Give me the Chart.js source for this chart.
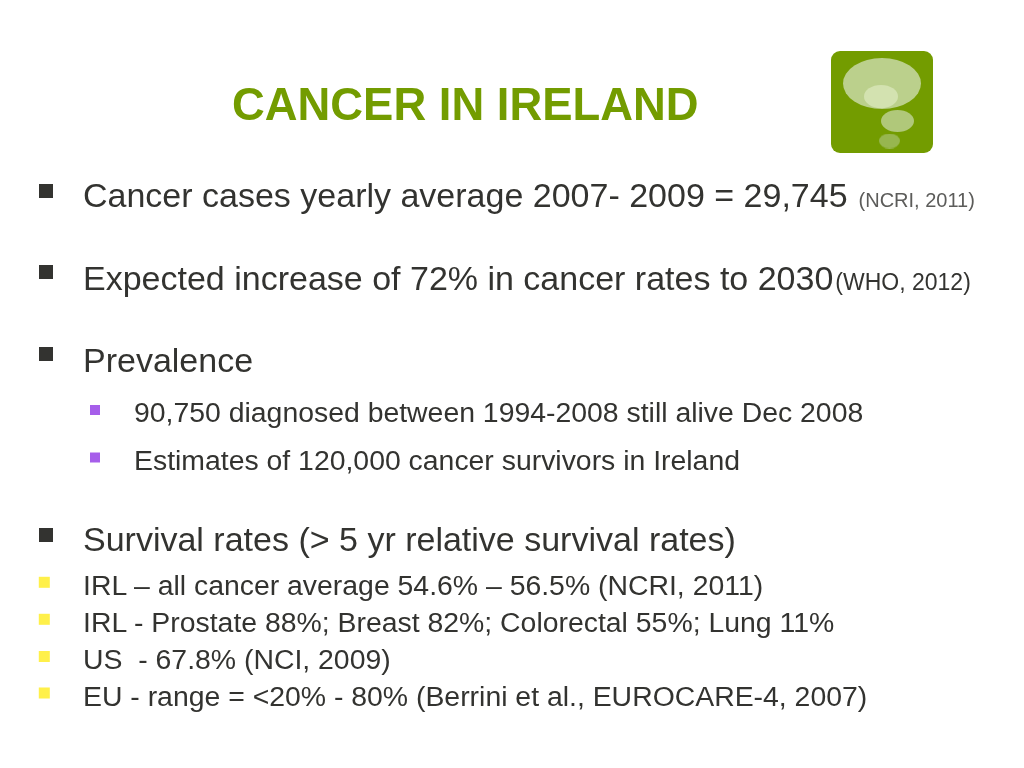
<!DOCTYPE html>
<html><head><meta charset="utf-8">
<script src="https://cdn.jsdelivr.net/npm/chart.js@4"></script>
<style>
html,body{margin:0;padding:0;background:#fff;width:1024px;height:768px;overflow:hidden}
#wrap{position:relative;width:1024px;height:768px}
canvas{position:absolute;left:0;top:0}
.t{position:absolute;white-space:pre;font-family:"Liberation Sans",Arial,sans-serif;color:#333330;line-height:1}
h1{position:absolute;margin:0;left:232px;top:82px;font:bold 45.4px/1 "Liberation Sans",Arial,sans-serif;color:#739c00;white-space:pre}
</style></head><body><div id="wrap">
<canvas id="c" width="1024" height="768"></canvas>
<h1 id="title"></h1>
<div id="text"></div>
</div>
<script>
const titleText = "CANCER IN IRELAND";
const mainLines = [
  ["Cancer cases yearly average 2007- 2009 = 29,745", "(NCRI, 2011)"],
  ["Expected increase of 72% in cancer rates to 2030", "(WHO, 2012)"],
  ["Prevalence", ""],
  ["Survival rates (> 5 yr relative survival rates)", ""]
];
const subLines = [
  "90,750 diagnosed between 1994-2008 still alive Dec 2008",
  "Estimates of 120,000 cancer survivors in Ireland"
];
const detailLines = [
  "IRL – all cancer average 54.6% – 56.5% (NCRI, 2011)",
  "IRL - Prostate 88%; Breast 82%; Colorectal 55%; Lung 11%",
  "US  - 67.8% (NCI, 2009)",
  "EU - range = <20% - 80% (Berrini et al., EUROCARE-4, 2007)"
];
const smallSizes = [20, 23, 0, 0];
const smallGaps = [11, 2, 0, 0];
const smallColors = ["#5c5c5a", "#333330", "", ""];
const mainTops = [178, 261, 343, 522];
const subTops = [398, 446];
const detailTops = [571, 608, 645, 682];
const mainBullets = [{x:46,y:191},{x:46,y:272},{x:46,y:354},{x:46,y:535}];
const subBullets = [{x:95,y:410},{x:95,y:457.5}];
const detailBullets = [{x:44.3,y:582.3},{x:44.3,y:619.3},{x:44.3,y:656.5},{x:44.3,y:693}];
const iconBack = [{x:882,y:102}];
const iconLarge = [{x:882,y:83.5}];
const iconGlow = [{x:881,y:96.5}];
const iconMid = [{x:897.5,y:121}];
const iconSmall = [{x:889.5,y:141}];

document.getElementById('title').textContent = titleText;
const box = document.getElementById('text');
function add(left, top, size, text, small, smallSize, gap, color){
  const d = document.createElement('div');
  d.className = 't';
  d.style.left = left + 'px'; d.style.top = top + 'px'; d.style.fontSize = size + 'px';
  d.textContent = text;
  if (small){
    const s = document.createElement('span');
    s.style.fontSize = smallSize + 'px'; s.style.marginLeft = gap + 'px'; s.style.color = color;
    s.textContent = small; d.appendChild(s);
  }
  box.appendChild(d);
}
mainLines.forEach((l,i)=>add(83, mainTops[i], 34, l[0], l[1], smallSizes[i], smallGaps[i], smallColors[i]));
subLines.forEach((l,i)=>add(134, subTops[i], 28.4, l));
detailLines.forEach((l,i)=>add(83, detailTops[i], 28.4, l));

function shape(w,h,color,round){
  const c = document.createElement('canvas'); c.width=w; c.height=h;
  const g = c.getContext('2d'); g.fillStyle=color; g.beginPath();
  if (round) g.roundRect(0,0,w,h,round); else g.ellipse(w/2,h/2,w/2,h/2,0,0,Math.PI*2);
  g.fill(); return c;
}
function ds(data,style,radius,bg){
  return {data, pointStyle:style, pointRadius:radius, pointBackgroundColor:bg, pointBorderWidth:0, pointHoverRadius:radius, showLine:false, clip:false};
}
new Chart(document.getElementById('c'),{
  type:'scatter',
  data:{datasets:[
    ds(mainBullets,'rect',9.9,'#333330'),
    ds(subBullets,'rect',7.07,'#a65eea'),
    ds(detailBullets,'rect',7.8,'#fff04a'),
    ds(iconSmall,shape(21,15,'#97b64f'),1),
    ds(iconMid,shape(33,22,'#b0c87a'),1),
    ds(iconGlow,shape(34,23,'#d3e2b0'),1),
    ds(iconLarge,shape(78,51,'#bbd08c'),1),
    ds(iconBack,shape(102,102,'#739c00',9),1)
  ]},
  options:{
    responsive:false, animation:false, events:[],
    layout:{padding:0,autoPadding:false},
    plugins:{legend:{display:false},tooltip:{enabled:false}},
    scales:{
      x:{type:'linear',min:0,max:1024,display:false},
      y:{type:'linear',min:0,max:768,reverse:true,display:false}
    }
  }
});
</script></body></html>
